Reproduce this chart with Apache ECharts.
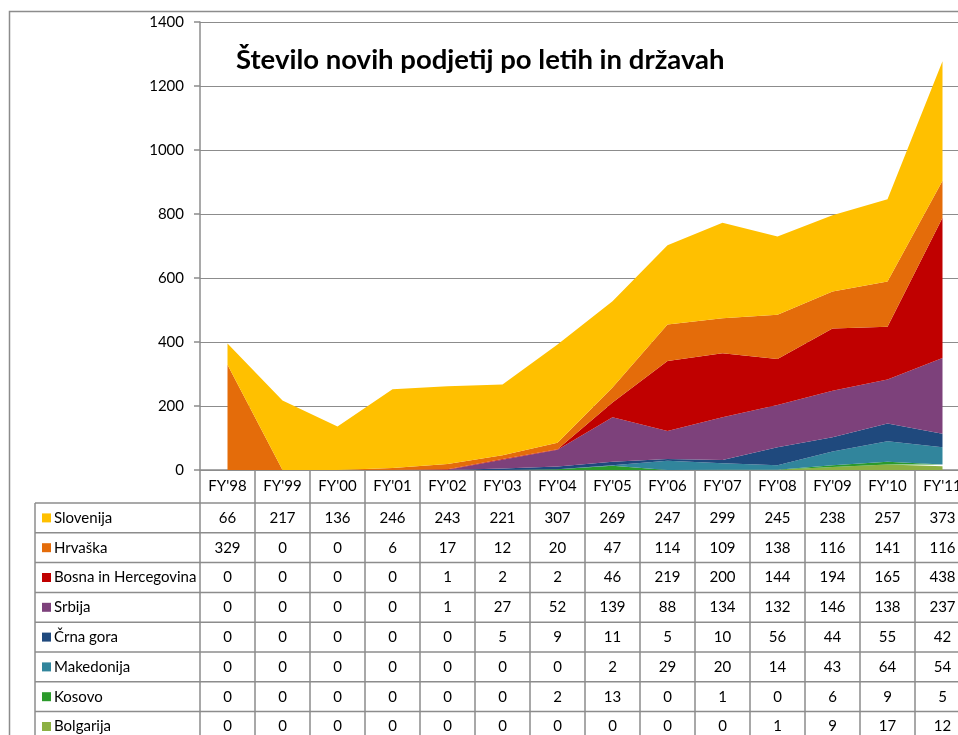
<!DOCTYPE html>
<html>
<head>
<meta charset="utf-8">
<title>Število novih podjetij po letih in državah</title>
<script src="https://cdn.jsdelivr.net/npm/echarts@6/dist/echarts.min.js"></script>
<style>
  html, body { margin: 0; padding: 0; background: #fff; }
  #chart { width: 958px; height: 735px; }
</style>
</head>
<body>
<div id="chart"></div>
<script>
  // podatki
  var categories = ["FY'98", "FY'99", "FY'00", "FY'01", "FY'02", "FY'03", "FY'04", "FY'05", "FY'06", "FY'07", "FY'08", "FY'09", "FY'10", "FY'11"];
  var slovenija  = [66, 217, 136, 246, 243, 221, 307, 269, 247, 299, 245, 238, 257, 373];
  var hrvaska    = [329, 0, 0, 6, 17, 12, 20, 47, 114, 109, 138, 116, 141, 116];
  var bosna      = [0, 0, 0, 0, 1, 2, 2, 46, 219, 200, 144, 194, 165, 438];
  var srbija     = [0, 0, 0, 0, 1, 27, 52, 139, 88, 134, 132, 146, 138, 237];
  var crnaGora   = [0, 0, 0, 0, 0, 5, 9, 11, 5, 10, 56, 44, 55, 42];
  var makedonija = [0, 0, 0, 0, 0, 0, 0, 2, 29, 20, 14, 43, 64, 54];
  var kosovo     = [0, 0, 0, 0, 0, 0, 2, 13, 0, 1, 0, 6, 9, 5];
  var bolgarija  = [0, 0, 0, 0, 0, 0, 0, 0, 0, 0, 1, 9, 17, 12];
  var yMin = 0, yMax = 1400, yStep = 200;

  // vrstni red v tabeli (od zgoraj navzdol)
  var rows = [
    { name: 'Slovenija', data: slovenija, color: '#FFC000' },
    { name: 'Hrvaška', data: hrvaska, color: '#E46C0A' },
    { name: 'Bosna in Hercegovina', data: bosna, color: '#C00000' },
    { name: 'Srbija', data: srbija, color: '#7D417B' },
    { name: 'Črna gora', data: crnaGora, color: '#1F497D' },
    { name: 'Makedonija', data: makedonija, color: '#31859C' },
    { name: 'Kosovo', data: kosovo, color: '#2B9A2B' },
    { name: 'Bolgarija', data: bolgarija, color: '#8CB043' }
  ];

  var FONT = 'Lato';
  var LINE = '#8c8c8c';
  var tableLeft = 35, tableTop = 503, rowH = 29.8;

  var myChart = echarts.init(document.getElementById('chart'));

  // serije: v grafu se kopicijo od spodaj navzgor (obratno od tabele)
  var series = rows.slice().reverse().map(function (r) {
    return {
      name: r.name,
      type: 'line',
      stack: 'skupaj',
      data: r.data,
      symbol: 'none',
      silent: true,
      lineStyle: { width: 0 },
      areaStyle: { color: r.color, opacity: 1 },
      itemStyle: { color: r.color }
    };
  });

  var option = {
    animation: false,
    textStyle: { fontFamily: FONT },
    title: {
      text: 'Število novih podjetij po letih in državah',
      left: 231,
      top: 39,
      textStyle: { fontFamily: FONT, fontWeight: 'bold', fontSize: 27.5, color: '#000', lineHeight: 32 }
    },
    // graf je na desni odrezan, zato mreža sega čez rob
    grid: { left: 200, top: 22, width: 770, height: 448, outerBoundsMode: 'none', containLabel: false },
    xAxis: {
      type: 'category',
      boundaryGap: true,
      data: categories,
      axisLine: { lineStyle: { color: LINE, width: 1.5 } },
      axisTick: { show: true, length: 272, lineStyle: { color: LINE, width: 1.5 } },
      axisLabel: { color: '#000', fontSize: 15, fontFamily: FONT, margin: 9, lineHeight: 15 },
      splitLine: { show: false }
    },
    yAxis: {
      type: 'value',
      min: yMin,
      max: yMax,
      interval: yStep,
      axisLine: { show: true, lineStyle: { color: LINE, width: 1.5 } },
      axisTick: { show: true, length: 6, lineStyle: { color: LINE, width: 1.5 } },
      axisLabel: { color: '#000', fontSize: 15, fontFamily: FONT, margin: 16,
        formatter: function (v) { return String(v); } },
      splitLine: { show: true, lineStyle: { color: LINE, width: 1.2 } }
    },
    series: series
  };

  myChart.setOption(option);

  // tabela s podatki pod grafom
  function buildTable () {
    var g = [];
    // zunanji okvir
    g.push({ type: 'rect', shape: { x: 9.5, y: 11.5, width: 1000, height: 800 },
      style: { fill: 'none', stroke: LINE, lineWidth: 1.5 }, z: 0 });
    // vodoravne črte
    for (var k = 0; k < rows.length; k++) {
      var yy = tableTop + k * rowH;
      g.push({ type: 'line', shape: { x1: tableLeft, y1: yy, x2: 980, y2: yy },
        style: { stroke: LINE, lineWidth: 1.5 }, z: 10 });
    }
    // leva črta
    g.push({ type: 'line', shape: { x1: tableLeft, y1: tableTop, x2: tableLeft, y2: 760 },
      style: { stroke: LINE, lineWidth: 1.5 }, z: 10 });

    rows.forEach(function (r, k) {
      var cy = tableTop + k * rowH + rowH / 2;
      g.push({ type: 'rect', shape: { x: 42, y: cy - 4.5, width: 9, height: 9 },
        style: { fill: r.color }, z: 10 });
      g.push({ type: 'text', x: 54, y: cy,
        style: { text: r.name, fill: '#000', font: '15px ' + FONT, textVerticalAlign: 'middle' }, z: 10 });
      r.data.forEach(function (v, i) {
        var cx = myChart.convertToPixel({ xAxisIndex: 0 }, categories[i]);
        g.push({ type: 'text', x: cx, y: cy,
          style: { text: String(v), fill: '#000', font: '15px ' + FONT, textAlign: 'center', textVerticalAlign: 'middle' }, z: 10 });
      });
    });
    myChart.setOption({ graphic: g });
  }
  buildTable();
</script>
</body>
</html>
